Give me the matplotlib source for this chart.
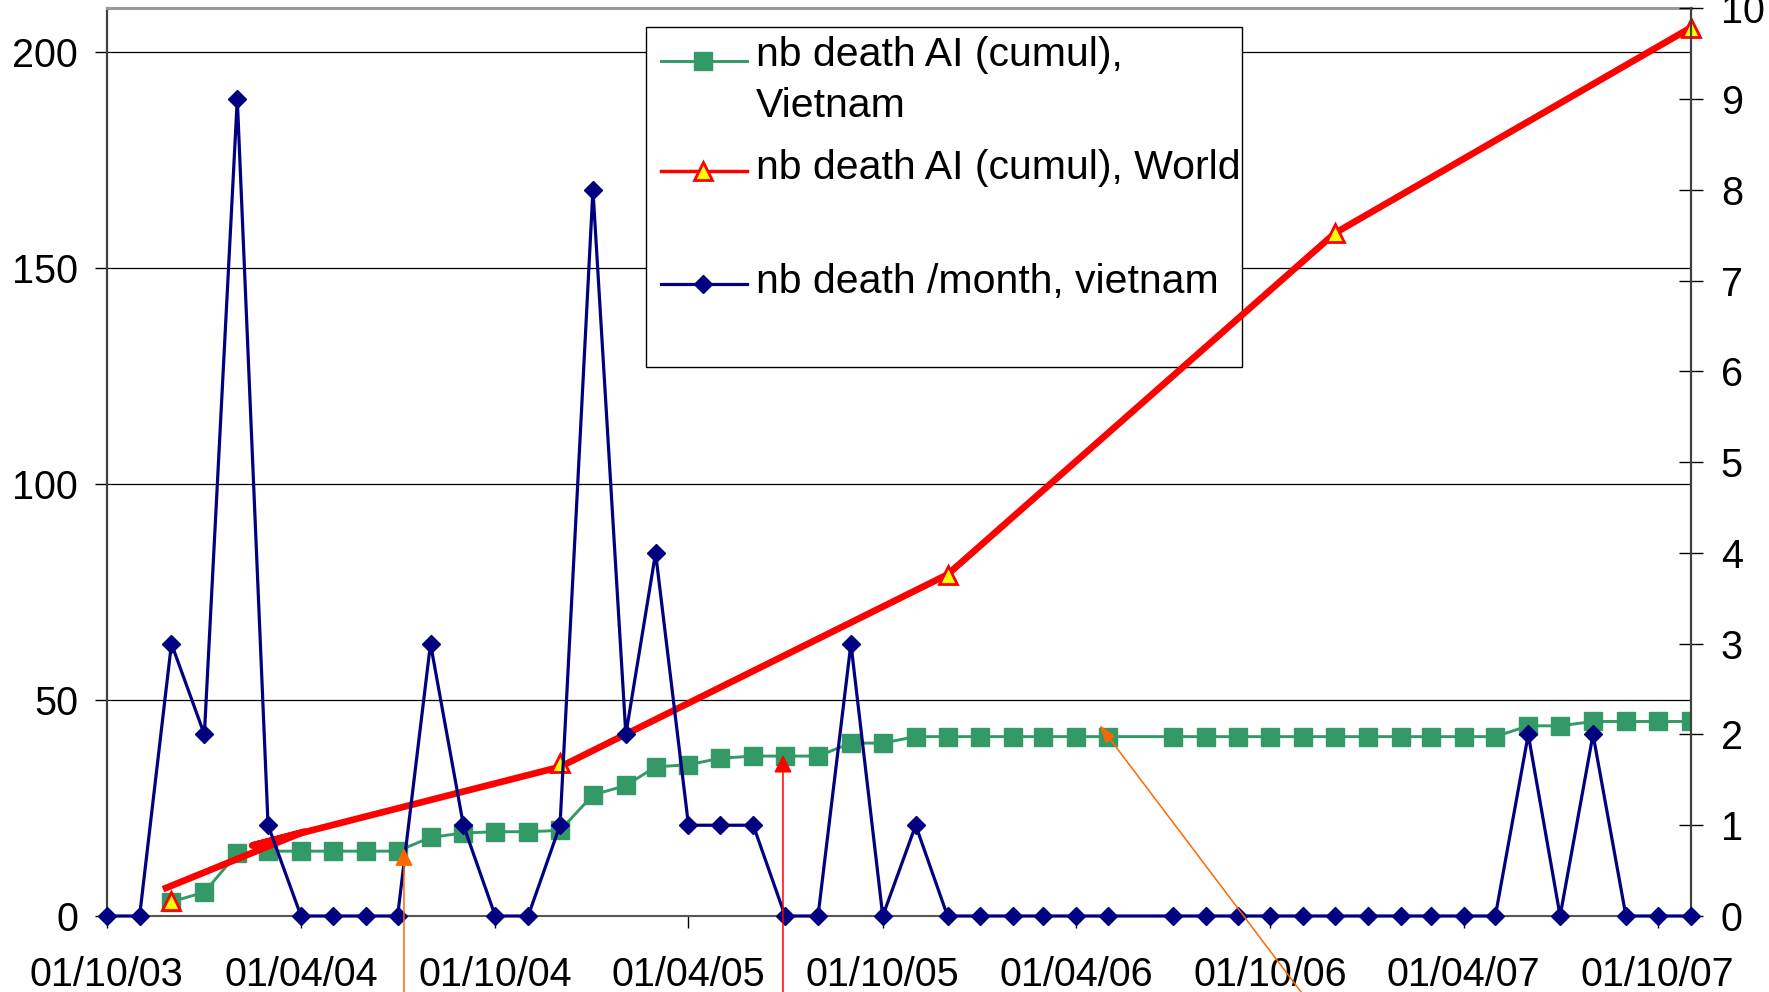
import matplotlib
matplotlib.use('Agg')
import matplotlib.pyplot as plt
import matplotlib.dates as mdates
from matplotlib.patches import Rectangle
from matplotlib.lines import Line2D
import numpy as np
import pandas as pd

plt.rcParams['font.family'] = ['Liberation Sans', 'DejaVu Sans']

# monthly points, june 2006 is missing in the source sheet
months = pd.date_range('2003-10-01', '2007-11-01', freq='MS')
months = months[months != pd.Timestamp('2006-06-01')]

# nb death / month, vietnam (right axis)
death_month_vn = [0, 0, 3,
                  2, 9, 1, 0, 0, 0, 0, 3, 1, 0, 0, 1,
                  8, 2, 4, 1, 1, 1, 0, 0, 3, 0, 1, 0,
                  0, 0, 0, 0, 0, 0, 0, 0, 0, 0, 0,
                  0, 0, 0, 0, 0, 2, 0, 2, 0, 0, 0]

# nb death AI cumul, vietnam (left axis)
cumul_vn = [np.nan, np.nan, 3.3,
            5.5, 14.5, 15, 15, 15, 15, 15, 18.2, 19.2, 19.5, 19.5, 19.8,
            28, 30.2, 34.5, 35, 36.5, 37, 37, 37, 40, 40, 41.5, 41.5,
            41.5, 41.5, 41.5, 41.5, 41.5, 41.5, 41.5, 41.5, 41.5, 41.5, 41.5,
            41.5, 41.5, 41.5, 41.5, 41.5, 44, 44, 45, 45, 45, 45]

# nb death AI cumul, world (left axis) - yearly points
world_dates = pd.to_datetime(['2003-12-01', '2004-12-01', '2005-12-01', '2006-12-01', '2007-11-01'])
world_vals = [3.5, 35.5, 79, 158, 205.5]

# the thick red line as drawn on the sheet
red_path_dates = pd.to_datetime(['2003-11-23', '2004-04-04', '2004-02-15', '2004-12-01',
                                 '2005-12-01', '2006-12-01', '2007-11-01'])
red_path_vals = [6.2, 19.5, 16.3, 34.5, 79, 158, 205.5]

# arrows drawn on top (tip date, tip value on left axis, tail date, tail value)
arrow_tip_dates = pd.to_datetime(['2004-07-07', '2005-06-29', '2006-04-23'])
arrow_tip_vals = [15.7, 37.3, 44.2]
arrow_tail_dates = pd.to_datetime(['2004-07-07', '2005-06-29', '2006-11-12'])
arrow_tail_vals = [-25, -25, -21.8]
arrow_colors = ['#FF6600', '#FF0000', '#FF6600']
arrow_head_w = [0.55, 0.55, 0.35]

labels = ['nb death AI (cumul),\nVietnam', 'nb death AI (cumul), World', 'nb death /month, vietnam']

W, H = 1769, 992
fig = plt.figure(figsize=(W / 100, H / 100), dpi=100)
ax = fig.add_axes([106.7 / W, 1 - 916 / H, (1690.7 - 106.7) / W, (916 - 8.3) / H])
ax2 = ax.twinx()

green = '#339966'
navy = '#000080'
red = '#FF0000'

ax.plot(months, cumul_vn, color=green, lw=2.1, marker='s', ms=12.5, mec=green, mfc=green, zorder=2)
ax.plot(red_path_dates, red_path_vals, color=red, lw=4.8, solid_joinstyle='round',
        solid_capstyle='butt', zorder=3)
ax.plot(world_dates, world_vals, ls='none', marker='^', ms=13.5, mfc='#FFFF00', mec=red, mew=2,
        zorder=4, clip_on=False)

ax2.plot(months, death_month_vn, color=navy, lw=2.3, marker='D', ms=9.5, mfc=navy, mec=navy,
         clip_on=False, zorder=3)

ax.set_xlim(pd.Timestamp('2003-10-01'), pd.Timestamp('2007-11-01'))
ax.set_ylim(0, 210)
ax2.set_ylim(0, 10)
ax.set_yticks([0, 50, 100, 150, 200])
ax2.set_yticks(range(0, 11))
ax.xaxis.set_major_locator(mdates.MonthLocator(bymonth=[4, 10], bymonthday=1))
ax.xaxis.set_major_formatter(mdates.DateFormatter('%d/%m/%y'))

ax.set_axisbelow(True)
ax.yaxis.grid(True, color='black', lw=0.9)

ax.tick_params(axis='y', direction='out', length=8.6, width=1, pad=12, labelsize=28.5)
ax.tick_params(axis='x', direction='out', length=8.6, width=1, pad=20, labelsize=28.5)
ax2.tick_params(axis='y', direction='inout', length=17.3, width=1, pad=13, labelsize=28.5)

for a in (ax, ax2):
    for s in a.spines.values():
        s.set_visible(False)
ax.spines['left'].set_visible(True)
ax.spines['left'].set_color('#404040')
ax.spines['left'].set_linewidth(1.6)
ax.spines['bottom'].set_visible(True)
ax.spines['bottom'].set_color('#555555')
ax.spines['bottom'].set_linewidth(1.5)
ax.spines['top'].set_visible(True)
ax.spines['top'].set_color('#9a9a9a')
ax.spines['top'].set_linewidth(2.2)
ax2.spines['right'].set_visible(True)
ax2.spines['right'].set_color('#404040')
ax2.spines['right'].set_linewidth(1.6)

# legend box, sits under the series like on the sheet
def fx(px):
    return px / W

def fy(py):
    return 1 - py / H

tf = fig.transFigure
ax.add_patch(Rectangle((fx(646), fy(367)), fx(1242) - fx(646), fy(27) - fy(367), transform=tf,
                       facecolor='white', edgecolor='black', lw=1, zorder=1, clip_on=False))
handle_y = [60.7, 171, 284.3]
# baseline of the last line of each label
text_base = [117.3, 179, 292.7]
styles = [dict(color=green, lw=2.1, marker='s', ms=12.5, mfc=green, mec=green),
          dict(color=red, lw=2.5, marker='^', ms=13.5, mfc='#FFFF00', mec=red, mew=2),
          dict(color=navy, lw=2.3, marker='D', ms=9.5, mfc=navy, mec=navy)]
for hy, tb, lab, st in zip(handle_y, text_base, labels, styles):
    ax.add_line(Line2D([fx(661), fx(703), fx(747)], [fy(hy)] * 3, transform=tf, markevery=[1],
                       zorder=1.2, clip_on=False, **st))
    ax.text(fx(756), fy(tb), lab, transform=tf, fontsize=29.5, ha='left', va='baseline',
            linespacing=1.44, zorder=1.2)

for td, tv, sd, sv, c, hw in zip(arrow_tip_dates, arrow_tip_vals, arrow_tail_dates,
                                 arrow_tail_vals, arrow_colors, arrow_head_w):
    ax2.annotate('', xy=(mdates.date2num(td), tv), xycoords=ax.transData,
                 xytext=(mdates.date2num(sd), sv), textcoords=ax.transData,
                 arrowprops=dict(arrowstyle='-|>,head_length=1.1,head_width=%s' % hw,
                                 color=c, lw=1.1, shrinkA=0, shrinkB=0, mutation_scale=10),
                 annotation_clip=False, zorder=10)

fig.savefig('out.png', dpi=100)
